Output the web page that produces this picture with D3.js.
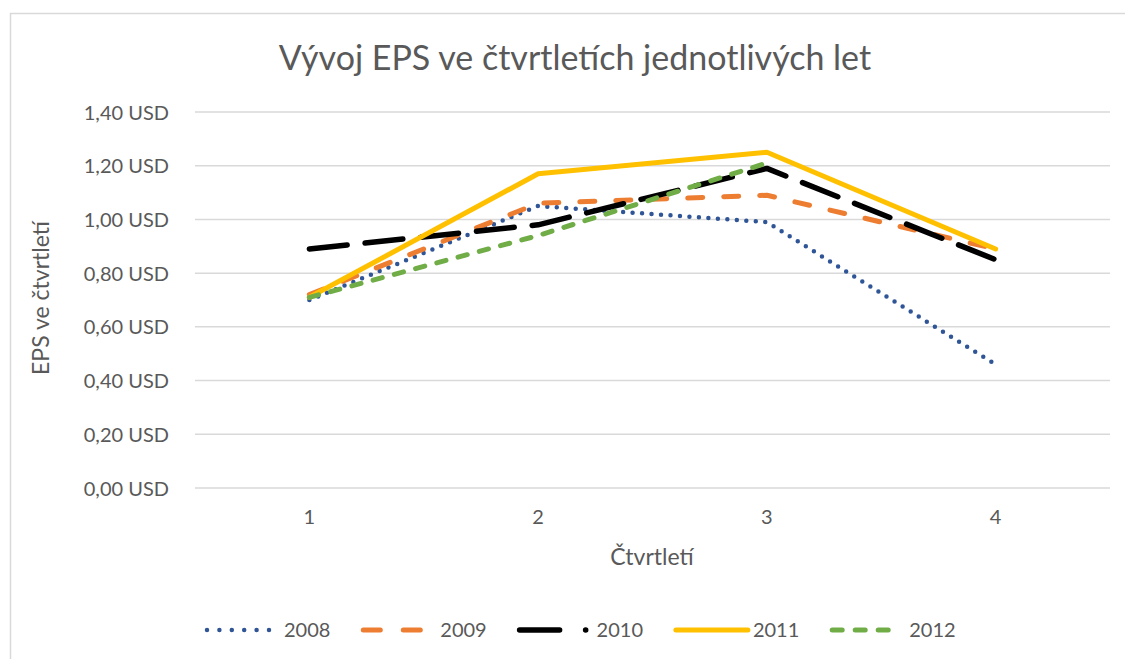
<!DOCTYPE html>
<html>
<head>
<meta charset="utf-8">
<script src="https://cdn.jsdelivr.net/npm/d3@7"></script>
<style>
  body { margin: 0; background: #fff; }
  text { font-family: Lato, "Open Sans", sans-serif; fill: #595959; }
</style>
</head>
<body>
<div id="chart"></div>
<script>
// Data
const quarters = [1, 2, 3, 4];
const years = ["2008", "2009", "2010", "2011", "2012"];
const eps2008 = [0.70, 1.05, 0.99, 0.46];
const eps2009 = [0.72, 1.06, 1.09, 0.89];
const eps2010 = [0.89, 0.98, 1.19, 0.85];
const eps2011 = [0.71, 1.17, 1.25, 0.89];
const eps2012 = [0.71, 0.94, 1.21, null];
const yTicks = [0, 0.2, 0.4, 0.6, 0.8, 1.0, 1.2, 1.4];

const series = [
  { name: "2008", values: eps2008, color: "#2F5597", width: 4.5, dash: "0 9.5", legendDash: "0 12.4", len: 65 },
  { name: "2009", values: eps2009, color: "#ED7D31", width: 5, dash: "15 21", legendDash: "17 23", len: 63 },
  { name: "2010", values: eps2010, color: "#000000", width: 5.5, dash: "38 18", legendDash: "40 26 0.1 40", len: 70 },
  { name: "2011", values: eps2011, color: "#FFC000", width: 5, dash: null, legendDash: null, len: 72 },
  { name: "2012", values: eps2012, color: "#70AD47", width: 5, dash: "9.5 12.5", legendDash: "10 13", len: 62 }
];

const W = 1125, H = 659;
const margin = { top: 112, right: 15, bottom: 171, left: 195 };

const svg = d3.select("#chart").append("svg")
  .attr("width", W).attr("height", H);

// chart border
svg.append("rect")
  .attr("x", 10.5).attr("y", 13.5)
  .attr("width", W).attr("height", H)
  .attr("fill", "none").attr("stroke", "#d9d9d9").attr("stroke-width", 1.5);

const x = d3.scaleBand().domain(quarters).range([margin.left, W - margin.right]);
const y = d3.scaleLinear().domain([0, 1.4]).range([H - margin.bottom, margin.top]);

// gridlines
svg.append("g")
  .selectAll("line")
  .data(yTicks)
  .enter()
  .append("line")
  .attr("x1", margin.left).attr("x2", W - margin.right)
  .attr("y1", d => y(d)).attr("y2", d => y(d))
  .attr("stroke", "#d9d9d9").attr("stroke-width", 1.5);

// y axis labels
const fmt = d => d.toFixed(2).replace(".", ",") + " USD";
const yAxis = svg.append("g")
  .attr("transform", "translate(" + (margin.left - 23) + ",0)")
  .call(d3.axisLeft(y).tickValues(yTicks).tickFormat(fmt).tickSize(0));
yAxis.select(".domain").remove();
yAxis.selectAll("text")
  .attr("font-size", 20).attr("dx", 0).attr("dy", "0.35em")
  .style("font-family", "Lato, 'Open Sans', sans-serif").attr("fill", "#595959");

// x axis labels
const xAxis = svg.append("g")
  .attr("transform", "translate(0," + (H - margin.bottom) + ")")
  .call(d3.axisBottom(x).tickSize(0).tickPadding(22));
xAxis.select(".domain").remove();
xAxis.selectAll("text")
  .attr("font-size", 20)
  .style("font-family", "Lato, 'Open Sans', sans-serif").attr("fill", "#595959");

// lines
const line = d3.line()
  .defined(d => d.v !== null)
  .x(d => x(d.q) + x.bandwidth() / 2)
  .y(d => y(d.v));

series.forEach(s => {
  svg.append("path")
    .datum(quarters.map((q, i) => ({ q: q, v: s.values[i] })))
    .attr("d", line)
    .attr("fill", "none")
    .attr("stroke", s.color)
    .attr("stroke-width", s.width)
    .attr("stroke-linecap", "round")
    .attr("stroke-linejoin", "round")
    .attr("stroke-dasharray", s.dash);
});

// title
svg.append("text")
  .attr("x", 575).attr("y", 70)
  .attr("text-anchor", "middle")
  .attr("font-size", 34)
  .text("Vývoj EPS ve čtvrtletích jednotlivých let");

// axis titles
svg.append("text")
  .attr("text-anchor", "middle")
  .attr("transform", "translate(652,565)")
  .attr("font-size", 23)
  .text("Čtvrtletí");

svg.append("text")
  .attr("text-anchor", "middle")
  .attr("transform", "translate(49,298)rotate(-90)")
  .attr("font-size", 23)
  .text("EPS ve čtvrtletí");

// legend
const legend = svg.append("g").attr("transform", "translate(207,630)");
series.forEach((s, i) => {
  const g = legend.append("g").attr("transform", "translate(" + (i * 156.3) + ",0)");
  g.append("line")
    .attr("x1", 0).attr("x2", s.len)
    .attr("y1", 0).attr("y2", 0)
    .attr("stroke", s.color)
    .attr("stroke-width", s.width)
    .attr("stroke-linecap", "round")
    .attr("stroke-dasharray", s.legendDash);
  g.append("text")
    .attr("x", 77).attr("y", 0).attr("dy", "0.35em")
    .attr("font-size", 20)
    .text(s.name);
});
</script>
</body>
</html>
